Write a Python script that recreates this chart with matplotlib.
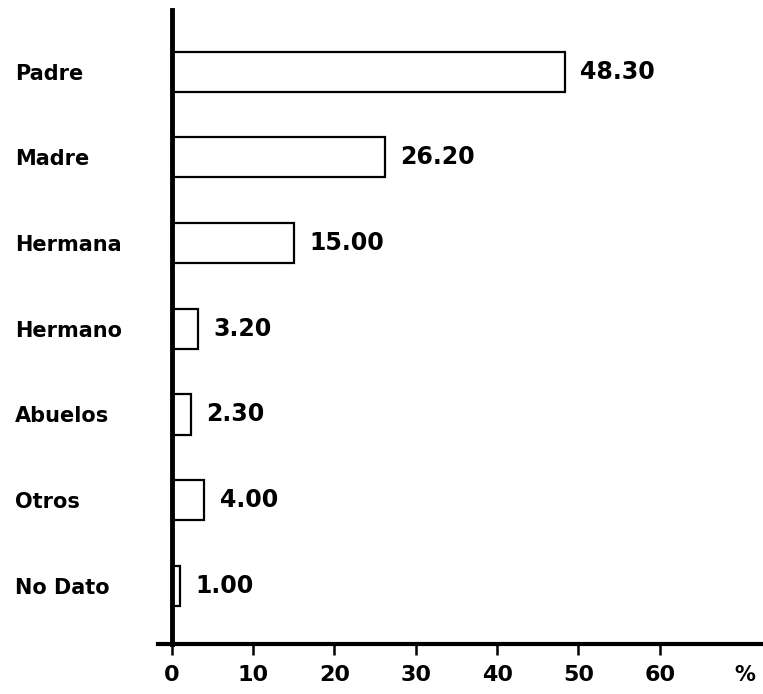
import numpy as np
import matplotlib
matplotlib.use("Agg")
import matplotlib.pyplot as plt

categories = ["Padre", "Madre", "Hermana", "Hermano", "Abuelos", "Otros", "No Dato"]
values = [48.30, 26.20, 15.00, 3.20, 2.30, 4.00, 1.00]
xticks = [0, 10, 20, 30, 40, 50, 60]

plt.rcParams['font.family'] = ['DejaVu Sans']
plt.rcParams['font.weight'] = 'bold'

fig = plt.figure(figsize=(7.63, 6.94), dpi=100)
ax = fig.add_axes([158/763, 50/694, (763-158)/763, (684-50)/694])

ypos = np.arange(len(categories))[::-1]
ax.barh(ypos, values, height=0.47, color='white', edgecolor='black', linewidth=1.6, zorder=2)

for y, v in zip(ypos, values):
  ax.annotate(f"{v:.2f}", xy=(v, y), xytext=(11, 0), textcoords='offset points',
              ha='left', va='center', fontsize=17, fontweight='bold')

ax.set_xlim(-1.7, 72.7)
ax.set_ylim(-0.68, 6.72)

for s in ['top', 'right']:
  ax.spines[s].set_visible(False)
ax.spines['left'].set_position(('data', 0))
ax.spines['left'].set_linewidth(3.5)
ax.spines['bottom'].set_linewidth(3.0)
ax.spines['left'].set_zorder(3)

ax.set_xticks(xticks)
ax.set_xticklabels([str(t) for t in xticks])
ax.tick_params(axis='x', length=8, width=1.8, pad=7, labelsize=16)

ax.set_yticks(ypos)
ax.set_yticklabels(categories)
ax.tick_params(axis='y', length=0, pad=113, labelsize=15)
for lab in ax.get_yticklabels():
  lab.set_ha('left')
  lab.set_fontweight('bold')
for lab in ax.get_xticklabels():
  lab.set_fontweight('bold')

ax.annotate('%', xy=(70.5, 0), xycoords=('data', 'axes fraction'), xytext=(0, -15),
            textcoords='offset points', ha='center', va='top', fontsize=15, fontweight='bold')

fig.savefig("out.png", dpi=100)
